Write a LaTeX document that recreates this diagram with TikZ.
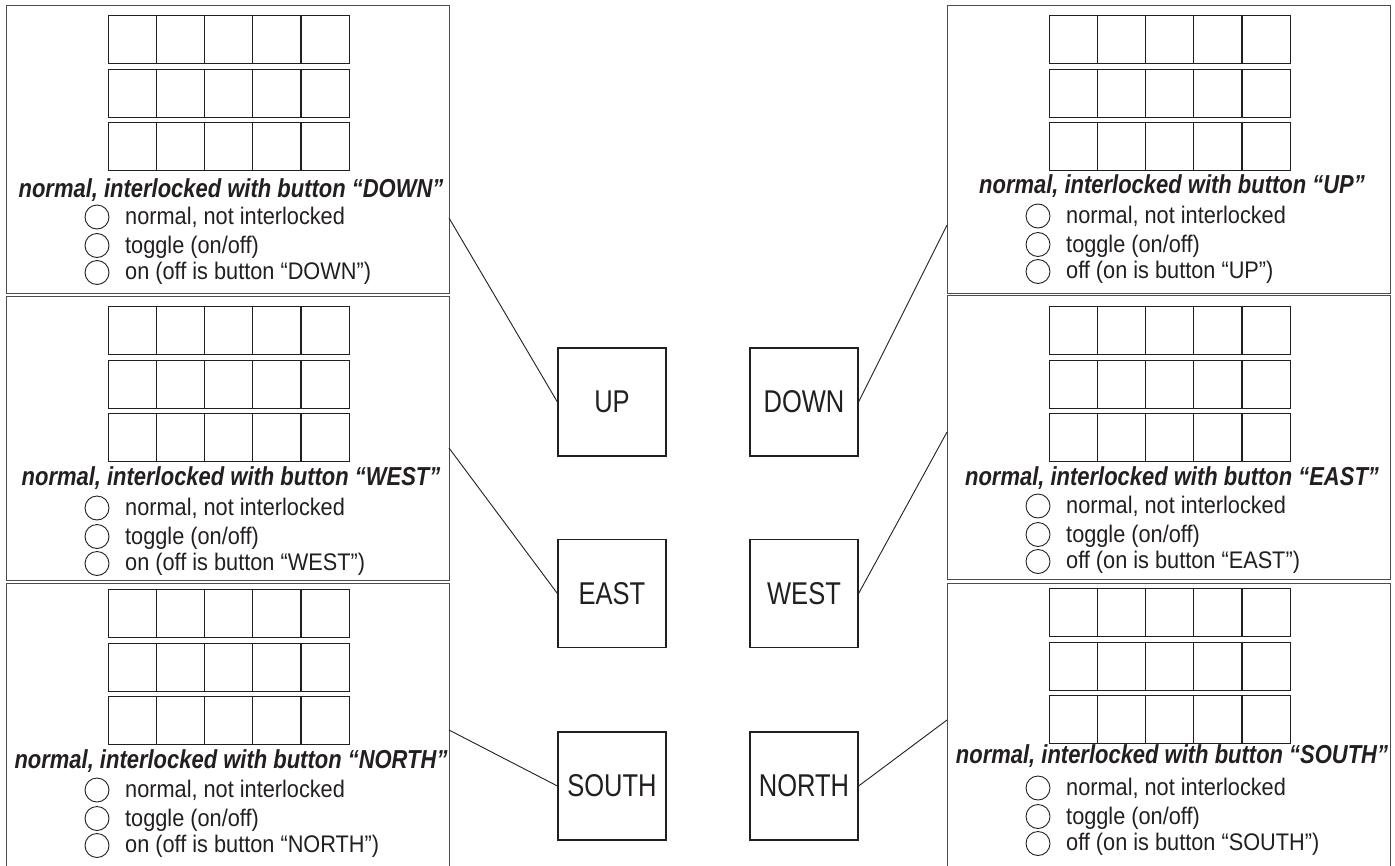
\documentclass[tikz,border=0pt]{standalone}
\usepackage{fontspec}
\setmainfont{Liberation Sans}
\newfontfamily\ttlfont[FakeStretch=0.845]{Liberation Sans}
\newfontfamily\optfont[FakeStretch=0.905]{Liberation Sans}
\newfontfamily\btnfont[FakeStretch=0.81]{Liberation Sans}
\definecolor{ink}{HTML}{231F20}
\tikzset{
 panelbox/.style={draw=black!70, line width=1.2pt, inner sep=0pt, anchor=north west},
 cell/.style={draw=ink, line width=1.3pt, inner sep=0pt, minimum width=48.2pt, minimum height=48pt, anchor=north west},
 ttl/.style={font=\ttlfont\bfseries\itshape\fontsize{26}{30}\selectfont, text=ink, anchor=base, inner sep=0pt},
 opt/.style={font=\optfont\fontsize{24}{28}\selectfont, text=ink, anchor=base west, inner sep=0pt},
 radio/.style={draw=ink, line width=0.9pt, circle, minimum size=24pt, inner sep=0pt},
 btn/.style={draw=ink, line width=1.2pt, minimum size=108pt, inner sep=0pt, font=\btnfont\fontsize{31.5}{36}\selectfont, text=ink},
 link/.style={draw=ink, line width=0.9pt},
}
% #1 name, #2 left x, #3 top y, #4 height, #5 grid top, #6 word, #7 title baseline, #8 first option baseline, #9 third line prefix
\newcommand\mkpanel[9]{%
 \node[panelbox, minimum width=442.5pt, minimum height=#4pt] (#1) at (#2,#3) {};
 \foreach \r in {0,1,2}{%
  \foreach \c in {0,...,4}{%
   \node[cell] (#1-g\r\c) at ({#2+101.5+\c*48.2},{#5+\r*53.5}) {};
  }%
 }%
 \node[ttl] (#1-t) at ({#2+225},#7) {normal, interlocked with button “#6”};
 \node[radio] (#1-r1) at ({#2+91},{#8-7}) {};
 \node[radio] (#1-r2) at ({#2+91},{#8+21.5}) {};
 \node[radio] (#1-r3) at ({#2+91},{#8+48.5}) {};
 \node[opt] (#1-o1) at ({#2+119},#8) {normal, not interlocked};
 \node[opt] (#1-o2) at ({#2+119},{#8+29}) {toggle (on/off)};
 \node[opt] (#1-o3) at ({#2+119},{#8+55}) {#9 “#6”)};
}
\begin{document}
\begin{tikzpicture}[x=1pt,y=-1pt]
\clip (0,0) rectangle (1395,865);
\fill[white] (0,0) rectangle (1395,865);
\mkpanel{L1}{6}{5}{288}{15}{DOWN}{197}{224}{on (off is button}
\mkpanel{L2}{6}{296}{284}{306}{WEST}{485}{515}{on (off is button}
\mkpanel{L3}{6}{583}{292}{589}{NORTH}{768}{797}{on (off is button}
\mkpanel{R1}{947}{5}{288}{15}{UP}{193}{223}{off (on is button}
\mkpanel{R2}{947}{295}{284}{306}{EAST}{485}{513}{off (on is button}
\mkpanel{R3}{947}{583}{292}{588}{SOUTH}{763}{795}{off (on is button}
\node[btn] (up) at (612,402) {UP};
\node[btn] (down) at (804,402) {DOWN};
\node[btn] (east) at (612,593.5) {EAST};
\node[btn] (west) at (804,593.5) {WEST};
\node[btn] (south) at (612,786) {SOUTH};
\node[btn] (north) at (804,786) {NORTH};
\coordinate (aL1) at (449,218);
\coordinate (aL2) at (449,448);
\coordinate (aL3) at (449,730);
\coordinate (aR1) at (947,225);
\coordinate (aR2) at (947,432);
\coordinate (aR3) at (947,720);
\draw[link] (aL1) -- (up.west);
\draw[link] (aL2) -- (east.west);
\draw[link] (aL3) -- (south.west);
\draw[link] (aR1) -- (down.east);
\draw[link] (aR2) -- (west.east);
\draw[link] (aR3) -- (north.east);
\end{tikzpicture}
\end{document}
